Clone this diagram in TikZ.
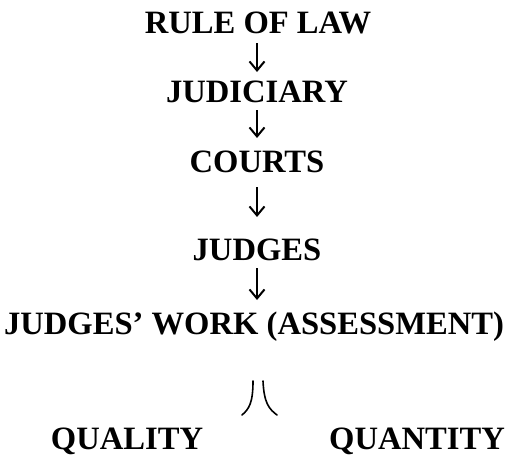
\documentclass[tikz,border=0pt]{standalone}
\usepackage{fontspec}
\setmainfont{Liberation Serif}
\usetikzlibrary{arrows.meta}
\begin{document}
\begin{tikzpicture}[x=1pt,y=-1pt,
  lbl/.style={font=\fontsize{32.6}{38}\selectfont\bfseries, anchor=base, inner sep=0pt},
  arr/.style={line width=1.8pt, -{Straight Barb[length=9pt,width=15pt,line width=2pt]}},
  split/.style={line width=1.6pt, line cap=round}]
\useasboundingbox (0,0) rectangle (506,455);
\node[lbl] (rule) at (258,33) {RULE OF LAW};
\node[lbl] (judiciary) at (257,102) {JUDICIARY};
\node[lbl] (courts) at (257,172) {COURTS};
\node[lbl] (judges) at (257,260) {JUDGES};
\node[lbl] (work) at (254,334) {JUDGES’ WORK (ASSESSMENT)};
\node[lbl] (quality) at (127,449) {QUALITY};
\node[lbl] (quantity) at (417,449) {QUANTITY};
\coordinate (a1s) at (257,43);  \coordinate (a1e) at (257,72);
\coordinate (a2s) at (257,110); \coordinate (a2e) at (257,138);
\coordinate (a3s) at (257,187); \coordinate (a3e) at (257,217);
\coordinate (a4s) at (257,268); \coordinate (a4e) at (257,300);
\draw[arr] (a1s) -- (a1e);
\draw[arr] (a2s) -- (a2e);
\draw[arr] (a3s) -- (a3e);
\draw[arr] (a4s) -- (a4e);
\draw[split] (253,381) .. controls (253,403) and (249,409) .. (242,415);
\draw[split] (263,381) .. controls (264,403) and (269,409) .. (277,415);
\end{tikzpicture}
\end{document}
